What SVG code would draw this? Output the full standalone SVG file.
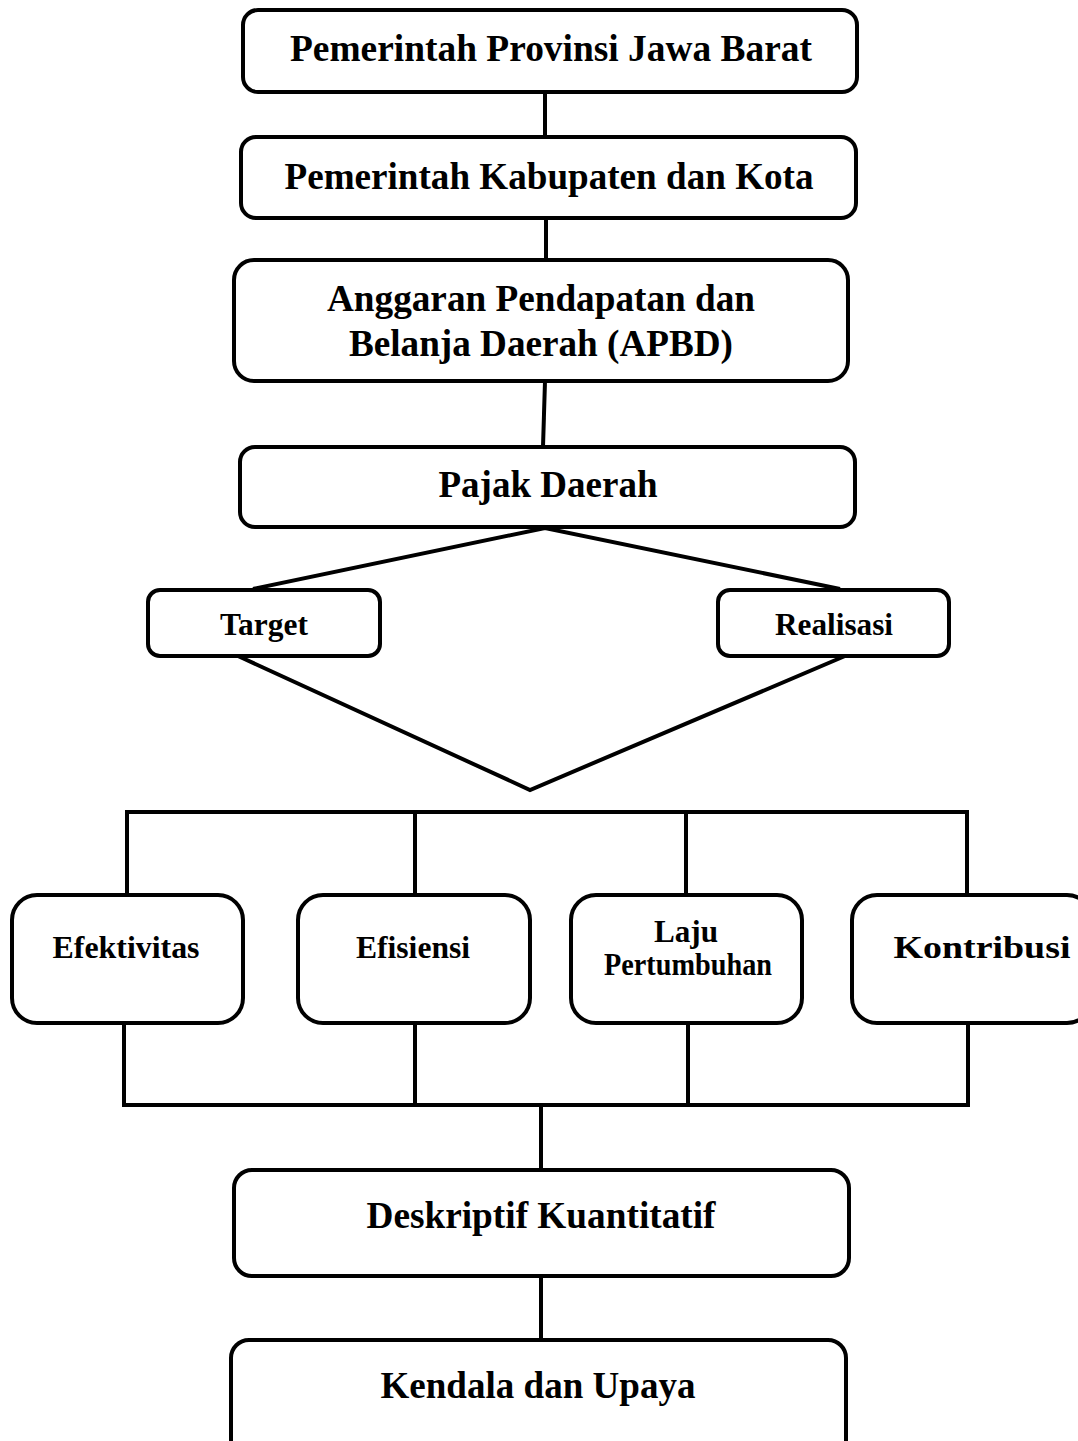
<svg xmlns="http://www.w3.org/2000/svg" width="1078" height="1441" viewBox="0 0 1078 1441">
<style>
.box{fill:#fff;stroke:#000;stroke-width:4}
.ln{stroke:#000;stroke-width:4;fill:none}
.t{font-family:"Liberation Serif","Times New Roman",serif;font-weight:bold;fill:#000;text-anchor:middle}
.big{font-size:38px}
.mid{font-size:32px}
.sm{font-size:31px}
</style>
<rect width="1078" height="1441" fill="#fff"/>
<g id="connectors">
<line class="ln" x1="545" y1="92" x2="545" y2="137"/>
<line class="ln" x1="546" y1="218" x2="546" y2="260"/>
<line class="ln" x1="545" y1="381" x2="543" y2="447"/>
<polyline class="ln" points="253,589 545,528 840,589"/>
<polyline class="ln" points="238,656 530,790 845,656"/>
<polyline class="ln" points="127,895 127,812 967,812 967,895"/>
<line class="ln" x1="415" y1="812" x2="415" y2="895"/>
<line class="ln" x1="686" y1="812" x2="686" y2="895"/>
<polyline class="ln" points="124,1023 124,1105 968,1105 968,1023"/>
<line class="ln" x1="415" y1="1023" x2="415" y2="1105"/>
<line class="ln" x1="688" y1="1023" x2="688" y2="1105"/>
<line class="ln" x1="541" y1="1105" x2="541" y2="1170"/>
<line class="ln" x1="541" y1="1276" x2="541" y2="1340"/>
</g>
<g id="n1"><rect class="box" x="243" y="10" width="614" height="82" rx="15"/>
<text class="t big" x="551" y="61" textLength="522" lengthAdjust="spacingAndGlyphs">Pemerintah Provinsi Jawa Barat</text></g>
<g id="n2"><rect class="box" x="241" y="137" width="615" height="81" rx="15"/>
<text class="t big" x="549" y="189" textLength="529" lengthAdjust="spacingAndGlyphs">Pemerintah Kabupaten dan Kota</text></g>
<g id="n3"><rect class="box" x="234" y="260" width="614" height="121" rx="20"/>
<text class="t big" x="541" y="311" textLength="428" lengthAdjust="spacingAndGlyphs">Anggaran Pendapatan dan</text>
<text class="t big" x="541" y="356" textLength="384" lengthAdjust="spacingAndGlyphs">Belanja Daerah (APBD)</text></g>
<g id="n4"><rect class="box" x="240" y="447" width="615" height="80" rx="15"/>
<text class="t big" x="548" y="497" textLength="219" lengthAdjust="spacingAndGlyphs">Pajak Daerah</text></g>
<g id="n5"><rect class="box" x="148" y="590" width="232" height="66" rx="12"/>
<text class="t mid" x="264" y="635" textLength="88" lengthAdjust="spacingAndGlyphs">Target</text></g>
<g id="n6"><rect class="box" x="718" y="590" width="231" height="66" rx="12"/>
<text class="t mid" x="834" y="635" textLength="118" lengthAdjust="spacingAndGlyphs">Realisasi</text></g>
<g id="n7"><rect class="box" x="12" y="895" width="231" height="128" rx="25"/>
<text class="t sm" x="126" y="958" textLength="147" lengthAdjust="spacingAndGlyphs">Efektivitas</text></g>
<g id="n8"><rect class="box" x="298" y="895" width="232" height="128" rx="25"/>
<text class="t sm" x="413" y="958" textLength="114" lengthAdjust="spacingAndGlyphs">Efisiensi</text></g>
<g id="n9"><rect class="box" x="571" y="895" width="231" height="128" rx="25"/>
<text class="t sm" x="686" y="942" textLength="64" lengthAdjust="spacingAndGlyphs">Laju</text>
<text class="t sm" x="688" y="975" textLength="168" lengthAdjust="spacingAndGlyphs">Pertumbuhan</text></g>
<g id="n10"><rect class="box" x="852" y="895" width="240" height="128" rx="25"/>
<text class="t sm" x="982" y="958" textLength="177" lengthAdjust="spacingAndGlyphs">Kontribusi</text></g>
<g id="n11"><rect class="box" x="234" y="1170" width="615" height="106" rx="18"/>
<text class="t big" x="541" y="1228" textLength="349" lengthAdjust="spacingAndGlyphs">Deskriptif Kuantitatif</text></g>
<g id="n12"><rect class="box" x="231" y="1340" width="615" height="130" rx="18"/>
<text class="t big" x="538" y="1398" textLength="315" lengthAdjust="spacingAndGlyphs">Kendala dan Upaya</text></g>
</svg>
